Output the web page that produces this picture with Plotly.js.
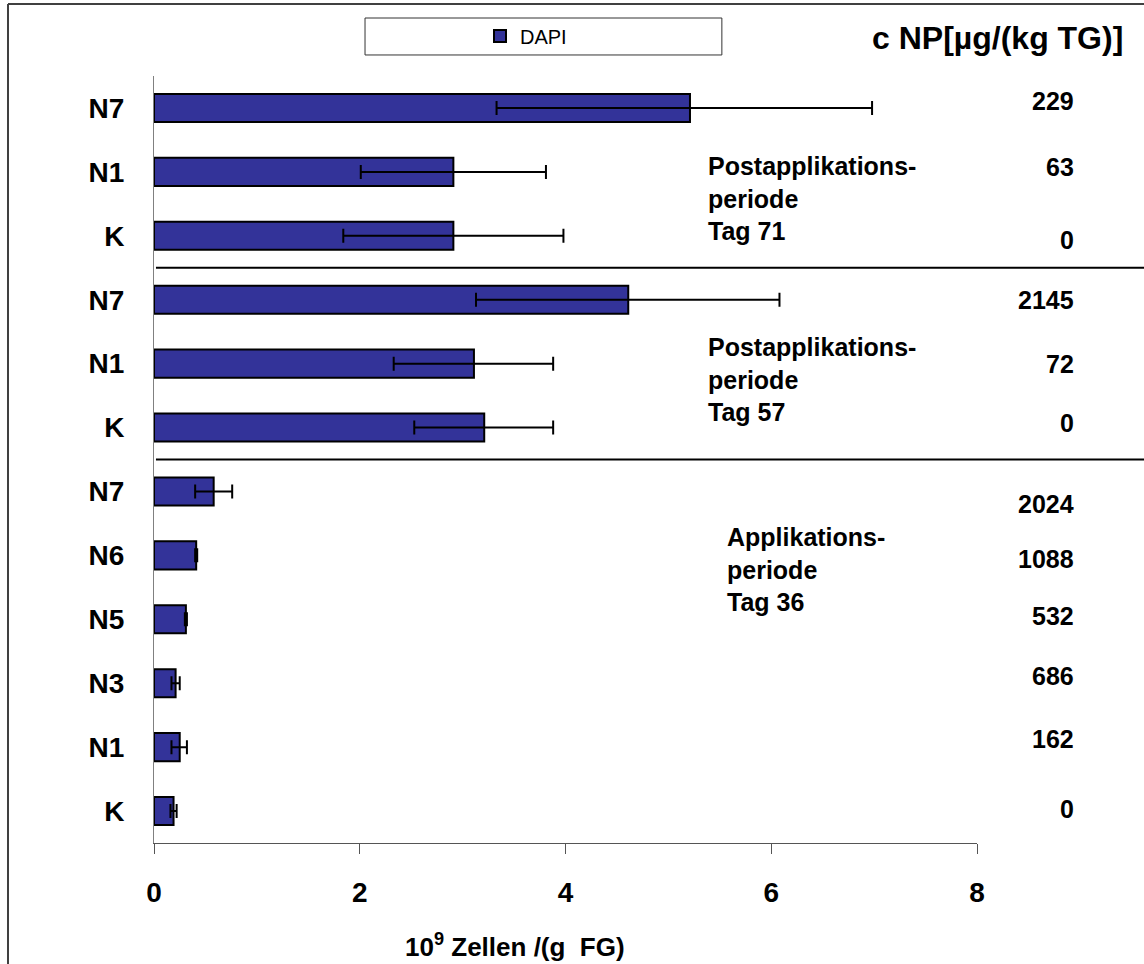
<!DOCTYPE html>
<html>
<head>
<meta charset="utf-8">
<script src="https://cdn.plot.ly/plotly-3.0.1.min.js"></script>
<style>html,body{margin:0;padding:0;background:#fff;}#chart{width:1144px;height:964px;}</style>
</head>
<body>
<div id="chart"></div>
<script>
// ---- data ----
const categories = ['N7','N1','K','N7','N1','K','N7','N6','N5','N3','N1','K'];
const dapi       = [5.21, 2.91, 2.91, 4.61, 3.11, 3.21, 0.58, 0.41, 0.31, 0.21, 0.25, 0.19];
const errPlus    = [1.77, 0.90, 1.07, 1.47, 0.77, 0.67, 0.18, 0.01, 0.01, 0.04, 0.07, 0.03];
const errMinus   = [1.88, 0.90, 1.07, 1.48, 0.78, 0.68, 0.18, 0.01, 0.01, 0.04, 0.08, 0.03];
const concentration = ['229','63','0','2145','72','0','2024','1088','532','686','162','0'];
const periodLabels = ['Postapplikations-<br>periode<br>Tag 71',
                      'Postapplikations-<br>periode<br>Tag 57',
                      'Applikations-<br>periode<br>Tag 36'];
const seriesName = 'DAPI';
const concTitle = 'c NP[µg/(kg TG)]';
const xTitle = '10<sup>9</sup> Zellen /(g&nbsp; FG)';
const xTicks = [0, 2, 4, 6, 8];

// ---- layout constants (styling only) ----
const FONT = 'Liberation Sans, Arial, sans-serif';
const rowPos = categories.map((c, i) => i);
const concShift = [7, 5, -4, 0, 0, 5, -13, -4, 3, 7, 8, 2];
const periodPos = [{x: 0.6707, y: 0.840}, {x: 0.6707, y: 0.6043}, {x: 0.6938, y: 0.356}];
const groupBreaks = [2.5, 5.5];

const trace = {
  type: 'bar',
  orientation: 'h',
  name: seriesName,
  x: dapi,
  y: rowPos,
  marker: {color: '#333399', line: {color: '#000000', width: 2}},
  error_x: {type: 'data', symmetric: false, array: errPlus, arrayminus: errMinus,
            color: '#000000', thickness: 2, width: 7},
  showlegend: true
};

const annotations = [];
concentration.forEach((c, i) => {
  annotations.push({text: '<b>' + c + '</b>', xref: 'paper', yref: 'y', x: 1.1203, y: rowPos[i],
    xanchor: 'right', yanchor: 'middle', yshift: concShift[i], showarrow: false,
    font: {family: FONT, size: 25, color: '#000'}});
});
periodLabels.forEach((t, i) => {
  annotations.push({text: '<b>' + t.split('<br>').join('</b><br><b>') + '</b>', xref: 'paper', yref: 'paper',
    x: periodPos[i].x, y: periodPos[i].y, xanchor: 'left', yanchor: 'middle', align: 'left',
    showarrow: false, font: {family: FONT, size: 25, color: '#000'}});
});
annotations.push({text: '<b>' + concTitle + '</b>', xref: 'paper', yref: 'paper', x: 1.0245, y: 1.0495,
  xanchor: 'center', yanchor: 'middle', showarrow: false, font: {family: FONT, size: 32, color: '#000'}});
// x axis title (placed left of centre as in the reference)
annotations.push({text: '<b>' + xTitle + '</b>', xref: 'paper', yref: 'paper', x: 0.4386, y: -0.133,
  xanchor: 'center', yanchor: 'middle', showarrow: false, font: {family: FONT, size: 26, color: '#000'}});

const shapes = [];
groupBreaks.forEach(b => {
  shapes.push({type: 'line', xref: 'paper', yref: 'y', x0: 0.0024, x1: 1.21, y0: b, y1: b,
    line: {color: '#000', width: 2}});
});
// legend frame
shapes.push({type: 'rect', xref: 'paper', yref: 'paper', x0: 0.2564, x1: 0.690, y0: 1.0274, y1: 1.0756,
  line: {color: '#333', width: 1}, fillcolor: 'rgba(0,0,0,0)'});
// outer frame (top and left edges)
shapes.push({type: 'line', xref: 'paper', yref: 'paper', x0: -0.1774, x1: 1.21, y0: 1.0939, y1: 1.0939,
  line: {color: '#404040', width: 2}});
shapes.push({type: 'line', xref: 'paper', yref: 'paper', x0: -0.1774, x1: -0.1774, y0: -0.17, y1: 1.0939,
  line: {color: '#404040', width: 2}});

const layout = {
  width: 1144, height: 964,
  margin: {l: 154, r: 167, t: 76, b: 121, pad: 0},
  paper_bgcolor: '#ffffff', plot_bgcolor: '#ffffff',
  font: {family: FONT, color: '#000'},
  bargap: 0.56,
  xaxis: {
    range: [0, 8], tickvals: xTicks, ticktext: xTicks.map(v => '<b>' + v + '</b>'),
    showgrid: false, zeroline: false, showline: true, linecolor: '#555', linewidth: 1,
    ticks: 'outside', ticklen: 10, tickcolor: '#555', tickwidth: 1,
    ticklabelstandoff: 14,
    tickfont: {family: FONT, size: 28, color: '#000'},
    automargin: false, fixedrange: true
  },
  yaxis: {
    range: [11.5, -0.5], tickvals: rowPos, ticktext: categories.map(c => '<b>' + c + '</b>'),
    showgrid: false, zeroline: false, showline: true, linecolor: '#808080', linewidth: 1,
    ticks: '', ticklabelstandoff: 23,
    tickfont: {family: FONT, size: 28, color: '#000'},
    automargin: false, fixedrange: true
  },
  legend: {x: 0.452, y: 1.052, xanchor: 'center', yanchor: 'middle', orientation: 'h',
    bgcolor: 'rgba(0,0,0,0)', borderwidth: 0, itemwidth: 30,
    font: {family: FONT, size: 20, color: '#000'}},
  annotations: annotations,
  shapes: shapes
};

Plotly.newPlot('chart', [trace], layout, {staticPlot: true, displayModeBar: false});
</script>
</body>
</html>
